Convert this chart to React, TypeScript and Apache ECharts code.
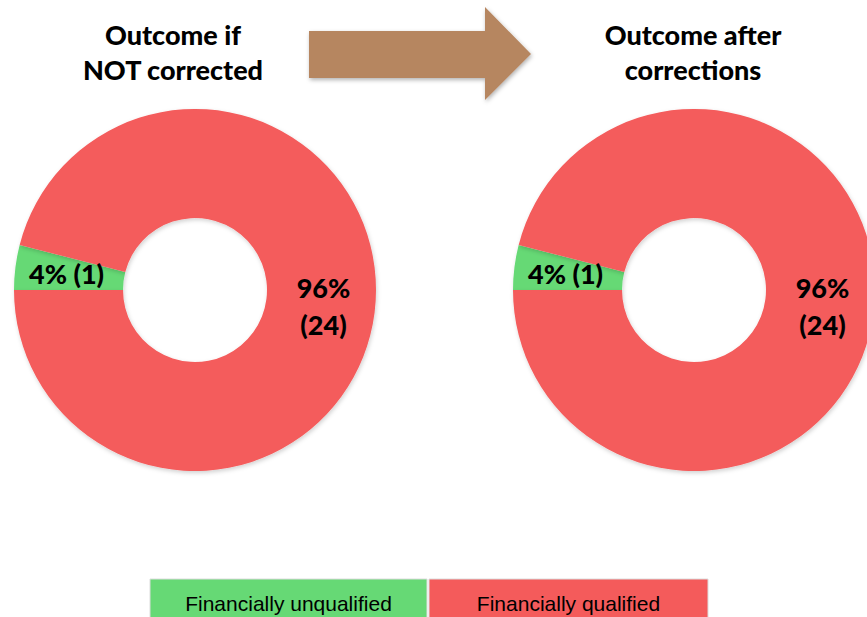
import React, { useEffect, useRef } from "react";
import * as echarts from "echarts";

// Outcome categories and their colours
const categories = ["Financially unqualified", "Financially qualified"];
const categoryColors = ["#66D975", "#F45B5B"];

// Counts per panel
const notCorrectedCounts = [1, 24];
const afterCorrectionsCounts = [1, 24];

const panelTitles = ["Outcome if\nNOT corrected", "Outcome after\ncorrections"];

const BOLD_FONT = "Lato, 'Open Sans', sans-serif";

function buildPie(counts: number[], cx: number) {
  return {
    type: "pie",
    center: [cx, 290],
    radius: [72, 181],
    startAngle: 180,
    clockwise: true,
    silent: true,
    avoidLabelOverlap: false,
    emphasis: { disabled: true },
    labelLine: { show: false },
    itemStyle: {
      shadowBlur: 4,
      shadowColor: "rgba(0,0,0,0.18)",
      shadowOffsetX: 1,
      shadowOffsetY: 2,
    },
    data: counts.map((v, i) => ({
      name: categories[i],
      value: v,
      itemStyle: { color: categoryColors[i] },
      label: {
        show: true,
        position: "inside",
        formatter: i === 0 ? "{d}% ({c})" : "{d}%\n({c})",
        color: "#000",
        fontFamily: BOLD_FONT,
        fontWeight: 900,
        fontSize: 27,
        lineHeight: 37,
      },
    })),
  };
}

export default function App() {
  const ref = useRef<HTMLDivElement>(null);

  useEffect(() => {
    if (!ref.current) return;
    const chart = echarts.init(ref.current, null, { renderer: "svg" });

    const legendX = [150, 429];
    const legendW = [277, 279];

    const titleStyle = {
      align: "center",
      verticalAlign: "top",
      fontFamily: BOLD_FONT,
      fontWeight: 900,
      fontSize: 27,
      lineHeight: 35,
      fill: "#000",
    };

    chart.setOption({
      animation: false,
      backgroundColor: "#ffffff",
      series: [buildPie(notCorrectedCounts, 195), buildPie(afterCorrectionsCounts, 694)],
      graphic: [
        // panel titles
        {
          type: "text",
          x: 173,
          y: 17,
          style: { ...titleStyle, text: panelTitles[0] },
        },
        {
          type: "text",
          x: 693,
          y: 17,
          style: { ...titleStyle, text: panelTitles[1] },
        },
        // block arrow between the panels
        {
          type: "polygon",
          shape: {
            points: [
              [309, 31],
              [485, 31],
              [485, 7],
              [531, 54],
              [485, 100],
              [485, 78],
              [309, 78],
            ],
          },
          style: {
            fill: "#B68661",
            shadowBlur: 4,
            shadowColor: "rgba(0,0,0,0.3)",
            shadowOffsetX: 1,
            shadowOffsetY: 2,
          },
        },
        // legend boxes
        ...categories.flatMap((name, i) => [
          {
            type: "rect",
            shape: { x: legendX[i], y: 579, width: legendW[i], height: 40 },
            style: { fill: categoryColors[i], stroke: "#dcdcdc", lineWidth: 1 },
          },
          {
            type: "text",
            x: legendX[i] + legendW[i] / 2,
            y: 603,
            style: {
              text: name,
              align: "center",
              verticalAlign: "middle",
              fontFamily: "'Liberation Sans', Arial, sans-serif",
              fontSize: 21,
              fill: "#000",
            },
          },
        ]),
      ],
    });

    return () => chart.dispose();
  }, []);

  return (
    <div
      ref={ref}
      style={{ position: "fixed", left: 0, top: 0, width: 867, height: 617 }}
    />
  );
}
